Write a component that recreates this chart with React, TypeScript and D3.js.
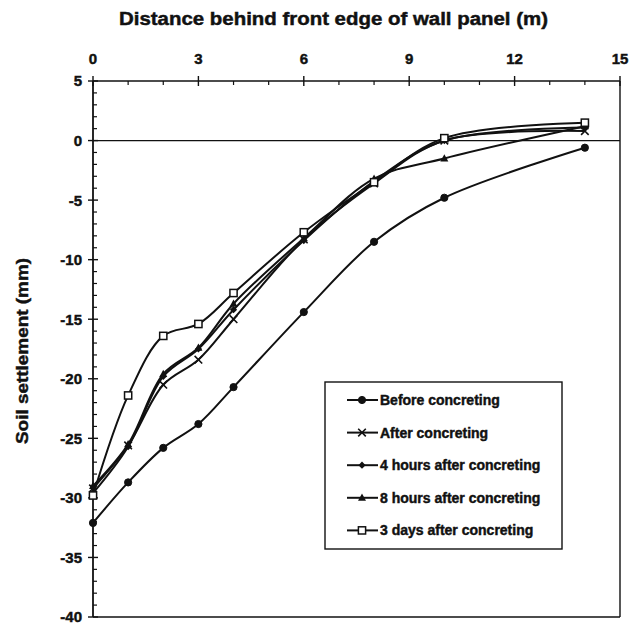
import React from "react";
import * as d3 from "d3";

const distances = [0, 1, 2, 3, 4, 6, 8, 10, 14];
const beforeConcreting = [-32.1, -28.7, -25.8, -23.8, -20.7, -14.4, -8.5, -4.8, -0.6];
const afterConcreting = [-29.2, -25.6, -20.5, -18.4, -15.0, -8.3, -3.6, 0.0, 0.8];
const fourHoursAfter = [-29.6, -25.7, -19.8, -17.5, -14.2, -8.4, -3.4, 0.0, 1.1];
const eightHoursAfter = [-29.0, -25.5, -19.6, -17.4, -13.7, -8.2, -3.2, -1.5, 1.2];
const threeDaysAfter = [-29.8, -21.4, -16.4, -15.4, -12.8, -7.7, -3.5, 0.2, 1.5];

const seriesNames = [
  "Before concreting",
  "After concreting",
  "4 hours after concreting",
  "8 hours after concreting",
  "3 days after concreting",
];
const seriesMarkers = ["circle", "cross", "diamond", "triangle", "square"];
const seriesValues = [beforeConcreting, afterConcreting, fourHoursAfter, eightHoursAfter, threeDaysAfter];

const xTicks = [0, 3, 6, 9, 12, 15];
const yTicks = [5, 0, -5, -10, -15, -20, -25, -30, -35, -40];

const xTitle = "Distance behind front edge of wall panel (m)";
const yTitle = "Soil settlement (mm)";

const FONT = "'Liberation Sans', Arial, sans-serif";

function Marker({ type, x, y }: { type: string; x: number; y: number }) {
  const s = 3.8;
  switch (type) {
    case "circle":
      return <circle cx={x} cy={y} r={3.6} fill="#111" stroke="#111" strokeWidth={1} />;
    case "cross":
      return (
        <path
          d={`M${x - s},${y - s}L${x + s},${y + s}M${x - s},${y + s}L${x + s},${y - s}`}
          stroke="#111"
          strokeWidth={1.6}
          fill="none"
        />
      );
    case "diamond":
      return (
        <path
          d={`M${x},${y - 3.6}L${x + 3.6},${y}L${x},${y + 3.6}L${x - 3.6},${y}Z`}
          fill="#111"
        />
      );
    case "triangle":
      return (
        <path d={`M${x},${y - 4.2}L${x + 4},${y + 3}L${x - 4},${y + 3}Z`} fill="#111" />
      );
    case "square":
      return (
        <rect x={x - 3.6} y={y - 3.6} width={7.2} height={7.2} fill="#fff" stroke="#111" strokeWidth={1.5} />
      );
    default:
      return null;
  }
}

export default function App() {
  const width = 633;
  const height = 625;
  const left = 93;
  const right = 620;
  const top = 81;
  const bottom = 617;

  const x = d3.scaleLinear().domain([0, 15]).range([left, right]);
  const y = d3.scaleLinear().domain([5, -40]).range([top, bottom]);

  const line = d3
    .line<number>()
    .x((_, i) => x(distances[i]))
    .y((d) => y(d))
    .curve(d3.curveCatmullRom.alpha(0.5));

  const xMinor = d3.range(0, 16, 1).filter((v) => !xTicks.includes(v));
  const yMinor = d3.range(-40, 6, 1).filter((v) => !yTicks.includes(v));

  const legX = 325;
  const legY = 382;
  const legW = 237;
  const legH = 167;
  const legRow = 32.6;

  const heavy = { stroke: "#111", strokeWidth: 0.45 };

  return (
    <svg
      width={width}
      height={height}
      style={{ position: "absolute", left: 0, top: 0, background: "#fff" }}
      fontFamily={FONT}
    >
      <rect x={0} y={0} width={width} height={height} fill="#fff" />
      {/* title */}
      <text
        x={333.5}
        y={25}
        textAnchor="middle"
        fontSize={18}
        fontWeight="bold"
        fill="#111"
        textLength={429}
        lengthAdjust="spacingAndGlyphs"
        {...heavy}
      >
        {xTitle}
      </text>
      {/* y title */}
      <text
        transform={`translate(28,351) rotate(-90)`}
        textAnchor="middle"
        fontSize={17}
        fontWeight="bold"
        fill="#111"
        textLength={186}
        lengthAdjust="spacingAndGlyphs"
        {...heavy}
      >
        {yTitle}
      </text>

      {/* frame */}
      <line x1={left} x2={right} y1={top} y2={top} stroke="#111" strokeWidth={1.6} />
      <line x1={left} x2={left} y1={top} y2={bottom} stroke="#111" strokeWidth={1.8} />
      <line x1={right} x2={right} y1={top} y2={bottom} stroke="#111" strokeWidth={1.4} />
      <line x1={left} x2={right} y1={bottom} y2={bottom} stroke="#111" strokeWidth={1.4} />
      {/* zero line */}
      <line x1={left} x2={right} y1={y(0)} y2={y(0)} stroke="#111" strokeWidth={1.3} />

      {/* x ticks */}
      {xTicks.map((t) => (
        <g key={"xt" + t}>
          <line x1={x(t)} x2={x(t)} y1={top - 5} y2={top + 5} stroke="#111" strokeWidth={1.4} />
          <text x={x(t)} y={top - 17} textAnchor="middle" fontSize={15} fill="#111" fontWeight="bold" {...heavy}>
            {t}
          </text>
        </g>
      ))}
      {xMinor.map((t) => (
        <line key={"xm" + t} x1={x(t)} x2={x(t)} y1={top} y2={top + 4} stroke="#111" strokeWidth={1.2} />
      ))}

      {/* y ticks */}
      {yTicks.map((t) => (
        <g key={"yt" + t}>
          <line x1={left - 5} x2={left + 5} y1={y(t)} y2={y(t)} stroke="#111" strokeWidth={1.4} />
          <text x={left - 11} y={y(t)} dy="0.36em" textAnchor="end" fontSize={15} fill="#111" fontWeight="bold" {...heavy}>
            {t}
          </text>
        </g>
      ))}
      {yMinor.map((t) => (
        <line key={"ym" + t} x1={left} x2={left + 4} y1={y(t)} y2={y(t)} stroke="#111" strokeWidth={1.2} />
      ))}

      {/* series */}
      {seriesValues.map((vals, si) => (
        <g key={"s" + si}>
          <path d={line(vals) || ""} fill="none" stroke="#111" strokeWidth={2} />
          {vals.map((v, i) => (
            <Marker key={i} type={seriesMarkers[si]} x={x(distances[i])} y={y(v)} />
          ))}
        </g>
      ))}

      {/* legend */}
      <rect x={legX} y={legY} width={legW} height={legH} fill="#fff" stroke="#111" strokeWidth={1.4} />
      {seriesNames.map((name, i) => {
        const cy = legY + 18 + i * legRow;
        return (
          <g key={"l" + i}>
            <line x1={legX + 22} x2={legX + 53} y1={cy} y2={cy} stroke="#111" strokeWidth={2} />
            <Marker type={seriesMarkers[i]} x={legX + 37} y={cy} />
            <text x={legX + 55} y={cy} dy="0.35em" fontSize={14} fontWeight="bold" fill="#111" {...heavy}>
              {name}
            </text>
          </g>
        );
      })}
    </svg>
  );
}
